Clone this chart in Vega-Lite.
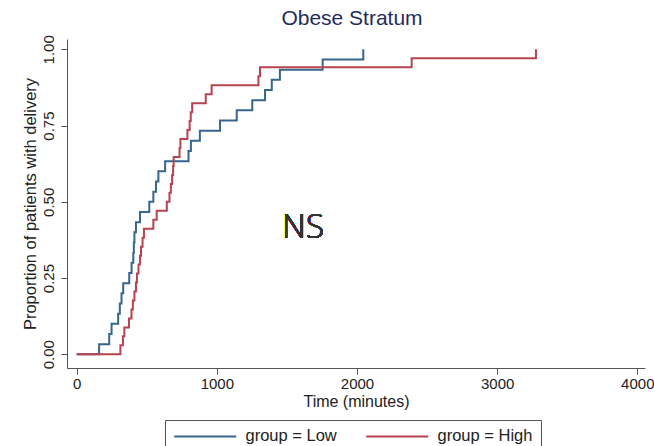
{
  "$schema": "https://vega.github.io/schema/vega-lite/v6.json",
  "width": 578,
  "height": 329,
  "autosize": "none",
  "padding": {"left": 67, "top": 39, "right": 9, "bottom": 78},
  "background": "white",
  "title": {"text": "Obese Stratum", "fontSize": 21, "font": "Liberation Sans", "fontWeight": "normal", "color": "#1f2d5c", "anchor": "middle", "offset": 6, "dx": -4},
  "data": {"values": [
    {"group": "Low", "time": 0, "prob": 0},
    {"group": "Low", "time": 160, "prob": 0.0333},
    {"group": "Low", "time": 232, "prob": 0.0667},
    {"group": "Low", "time": 249, "prob": 0.1},
    {"group": "Low", "time": 296, "prob": 0.1333},
    {"group": "Low", "time": 308, "prob": 0.1667},
    {"group": "Low", "time": 320, "prob": 0.2},
    {"group": "Low", "time": 332, "prob": 0.2333},
    {"group": "Low", "time": 375, "prob": 0.2667},
    {"group": "Low", "time": 392, "prob": 0.3},
    {"group": "Low", "time": 404, "prob": 0.3333},
    {"group": "Low", "time": 408, "prob": 0.3667},
    {"group": "Low", "time": 412, "prob": 0.4},
    {"group": "Low", "time": 423, "prob": 0.4333},
    {"group": "Low", "time": 452, "prob": 0.4667},
    {"group": "Low", "time": 518, "prob": 0.5},
    {"group": "Low", "time": 547, "prob": 0.5333},
    {"group": "Low", "time": 566, "prob": 0.5667},
    {"group": "Low", "time": 583, "prob": 0.6},
    {"group": "Low", "time": 631, "prob": 0.6333},
    {"group": "Low", "time": 798, "prob": 0.6667},
    {"group": "Low", "time": 815, "prob": 0.7},
    {"group": "Low", "time": 879, "prob": 0.7333},
    {"group": "Low", "time": 1023, "prob": 0.7667},
    {"group": "Low", "time": 1142, "prob": 0.8},
    {"group": "Low", "time": 1253, "prob": 0.8333},
    {"group": "Low", "time": 1344, "prob": 0.8667},
    {"group": "Low", "time": 1392, "prob": 0.9},
    {"group": "Low", "time": 1450, "prob": 0.9333},
    {"group": "Low", "time": 1755, "prob": 0.9667},
    {"group": "Low", "time": 2045, "prob": 1.0},
    {"group": "High", "time": 0, "prob": 0},
    {"group": "High", "time": 312, "prob": 0.0294},
    {"group": "High", "time": 330, "prob": 0.0588},
    {"group": "High", "time": 340, "prob": 0.0882},
    {"group": "High", "time": 373, "prob": 0.1176},
    {"group": "High", "time": 391, "prob": 0.1471},
    {"group": "High", "time": 401, "prob": 0.1765},
    {"group": "High", "time": 412, "prob": 0.2059},
    {"group": "High", "time": 423, "prob": 0.2353},
    {"group": "High", "time": 430, "prob": 0.2647},
    {"group": "High", "time": 441, "prob": 0.2941},
    {"group": "High", "time": 452, "prob": 0.3235},
    {"group": "High", "time": 459, "prob": 0.3529},
    {"group": "High", "time": 470, "prob": 0.3824},
    {"group": "High", "time": 480, "prob": 0.4118},
    {"group": "High", "time": 547, "prob": 0.4412},
    {"group": "High", "time": 571, "prob": 0.4706},
    {"group": "High", "time": 643, "prob": 0.5},
    {"group": "High", "time": 662, "prob": 0.5294},
    {"group": "High", "time": 672, "prob": 0.5588},
    {"group": "High", "time": 681, "prob": 0.5882},
    {"group": "High", "time": 688, "prob": 0.6176},
    {"group": "High", "time": 692, "prob": 0.6471},
    {"group": "High", "time": 734, "prob": 0.6765},
    {"group": "High", "time": 740, "prob": 0.7059},
    {"group": "High", "time": 790, "prob": 0.7353},
    {"group": "High", "time": 806, "prob": 0.7647},
    {"group": "High", "time": 814, "prob": 0.7941},
    {"group": "High", "time": 824, "prob": 0.8235},
    {"group": "High", "time": 921, "prob": 0.8529},
    {"group": "High", "time": 963, "prob": 0.8824},
    {"group": "High", "time": 1297, "prob": 0.9118},
    {"group": "High", "time": 1308, "prob": 0.9412},
    {"group": "High", "time": 2390, "prob": 0.9706},
    {"group": "High", "time": 3277, "prob": 1.0}
  ]},
  "layer": [
    {
      "mark": {"type": "line", "interpolate": "step-after", "strokeWidth": 2},
      "encoding": {
        "x": {
          "field": "time", "type": "quantitative",
          "scale": {"domain": [-69, 4055], "nice": false, "zero": false},
          "axis": {"values": [0, 1000, 2000, 3000, 4000], "title": "Time (minutes)", "grid": false, "format": "d",
            "domainColor": "#555", "tickColor": "#555", "tickSize": 6, "labelFontSize": 15, "labelColor": "#222",
            "titleFontSize": 16, "titleFontWeight": "normal", "titleColor": "#222", "labelPadding": 2, "titlePadding": 2, "labelFlush": false}
        },
        "y": {
          "field": "prob", "type": "quantitative",
          "scale": {"domain": [-0.045, 1.034], "nice": false, "zero": false},
          "axis": {"values": [0, 0.25, 0.5, 0.75, 1], "format": ".2f", "title": "Proportion of patients with delivery", "grid": false,
            "domainColor": "#555", "tickColor": "#555", "tickSize": 6, "labelFontSize": 15, "labelColor": "#222",
            "labelAngle": 270, "labelAlign": "center", "labelBaseline": "bottom", "labelPadding": 5,
            "titleFontSize": 16.5, "titleFontWeight": "normal", "titleColor": "#222", "titlePadding": 3, "labelFlush": false}
        },
        "color": {
          "field": "group", "type": "nominal",
          "scale": {"domain": ["Low", "High"], "range": ["#36658f", "#b8434e"]},
          "legend": {"title": null, "labelExpr": "'group = ' + datum.label", "orient": "none", "legendX": 98, "legendY": 381,
            "direction": "horizontal", "symbolType": "M-6,0H6", "symbolSize": 107, "symbolStrokeWidth": 2, "symbolOffset": 24,
            "strokeColor": "#555", "padding": 8, "labelFontSize": 16.5, "labelColor": "#222", "labelOffset": 32, "columnPadding": 25}
        }
      }
    },
    {
      "mark": {"type": "text", "fontSize": 33, "font": "Open Sans", "fontWeight": 300, "color": "#333", "align": "center", "baseline": "middle"},
      "encoding": {
        "x": {"datum": 1615, "type": "quantitative"},
        "y": {"datum": 0.414, "type": "quantitative"},
        "text": {"value": "NS"}
      }
    }
  ],
  "config": {"view": {"stroke": null}, "font": "Liberation Sans"}
}
